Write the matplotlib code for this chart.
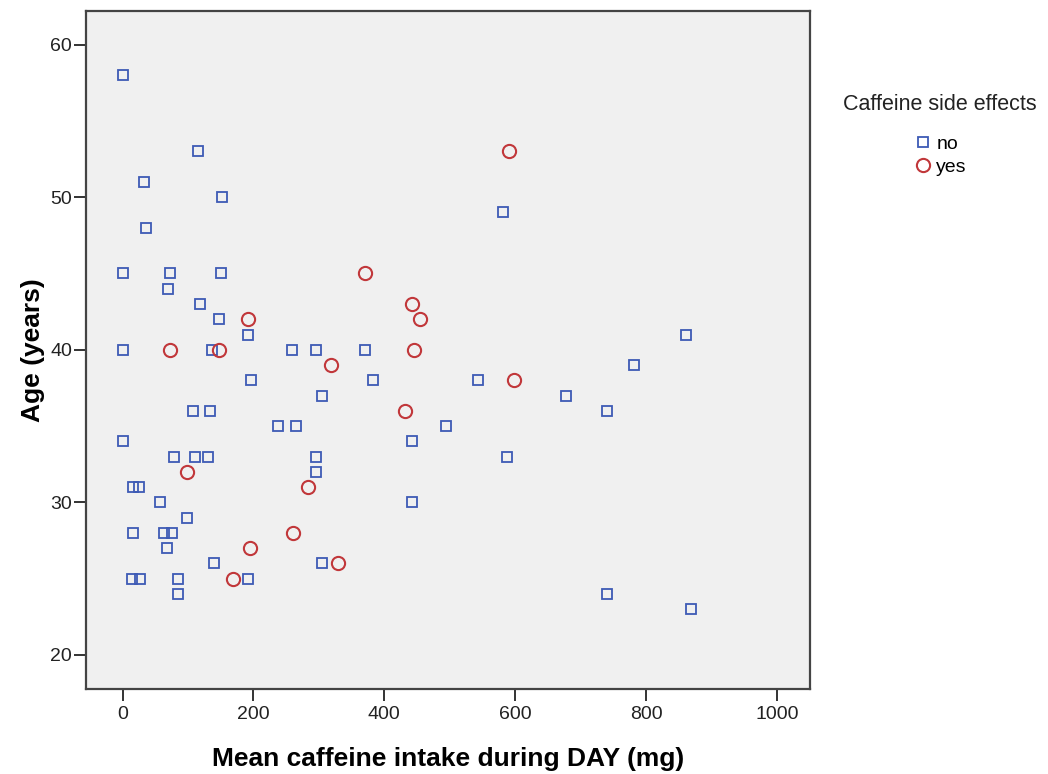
import matplotlib
matplotlib.use("Agg")
import matplotlib.pyplot as plt

plt.rcParams['font.family'] = ['Liberation Sans', 'DejaVu Sans']

# Datos: cafeina media (mg) y edad (anos)
no_x = [0, 116, 33, 152, 36, 0, 73, 150, 70, 119, 147, 192, 0, 136, 259, 296, 370,
        582, 861, 781, 197, 304, 108, 134, 238, 265, 0, 78, 111, 130, 295, 295,
        16, 25, 57, 98, 16, 64, 76, 68, 140, 305, 15, 26, 84, 192, 85,
        382, 543, 678, 494, 443, 588, 443, 740, 740, 868]
no_y = [58, 53, 51, 50, 48, 45, 45, 45, 44, 43, 42, 41, 40, 40, 40, 40, 40,
        49, 41, 39, 38, 37, 36, 36, 35, 35, 34, 33, 33, 33, 33, 32,
        31, 31, 30, 29, 28, 28, 28, 27, 26, 26, 25, 25, 25, 25, 24,
        38, 38, 37, 35, 34, 33, 30, 36, 24, 23]

yes_x = [191, 73, 148, 319, 591, 371, 443, 454, 445, 98, 283, 261, 195, 329, 169, 598, 432]
yes_y = [42, 40, 40, 39, 53, 45, 43, 42, 40, 32, 31, 28, 27, 26, 25, 38, 36]

x_ticks = [0, 200, 400, 600, 800, 1000]
y_ticks = [20, 30, 40, 50, 60]

azul = '#3d5ab5'
rojo = '#c1373a'

fig = plt.figure(figsize=(10.48, 7.74), dpi=100)
ax = fig.add_axes([0.0821, 0.1098, 0.6908, 0.876])
ax.set_facecolor('#f0f0f0')

ax.plot(no_x, no_y, linestyle='none', marker='s', markersize=6.5,
        markerfacecolor='none', markeredgecolor=azul, markeredgewidth=1.3, label='no')
ax.plot(yes_x, yes_y, linestyle='none', marker='o', markersize=9.5,
        markerfacecolor='none', markeredgecolor=rojo, markeredgewidth=1.5, label='yes')

ax.set_xlim(-55.8, 1050.4)
ax.set_ylim(17.77, 62.2)
ax.set_xticks(x_ticks)
ax.set_yticks(y_ticks)
ax.tick_params(length=8.5, width=1.4, color='#333333', labelsize=14,
               labelcolor='#222222')
ax.tick_params(axis='y', pad=1.5)
ax.tick_params(axis='x', pad=4)
for s in ax.spines.values():
    s.set_color('#444444')
    s.set_linewidth(1.6)

ax.set_xlabel('Mean caffeine intake during DAY (mg)', fontsize=19, fontweight='bold',
              labelpad=17)
ax.set_ylabel('Age (years)', fontsize=19, fontweight='bold', labelpad=4)

# leyenda: titulo aparte para dejar el hueco como en el original
fig.text(940 / 1048, 1 - 105 / 774, 'Caffeine side effects', fontsize=15.5,
         ha='center', va='center', color='#222222')
fig.legend(loc='upper center', bbox_to_anchor=(941 / 1048, 1 - 118 / 774),
           fontsize=14, frameon=False, handlelength=0.8, handletextpad=0.3,
           labelspacing=0.25)

fig.savefig('out.png', dpi=100)
